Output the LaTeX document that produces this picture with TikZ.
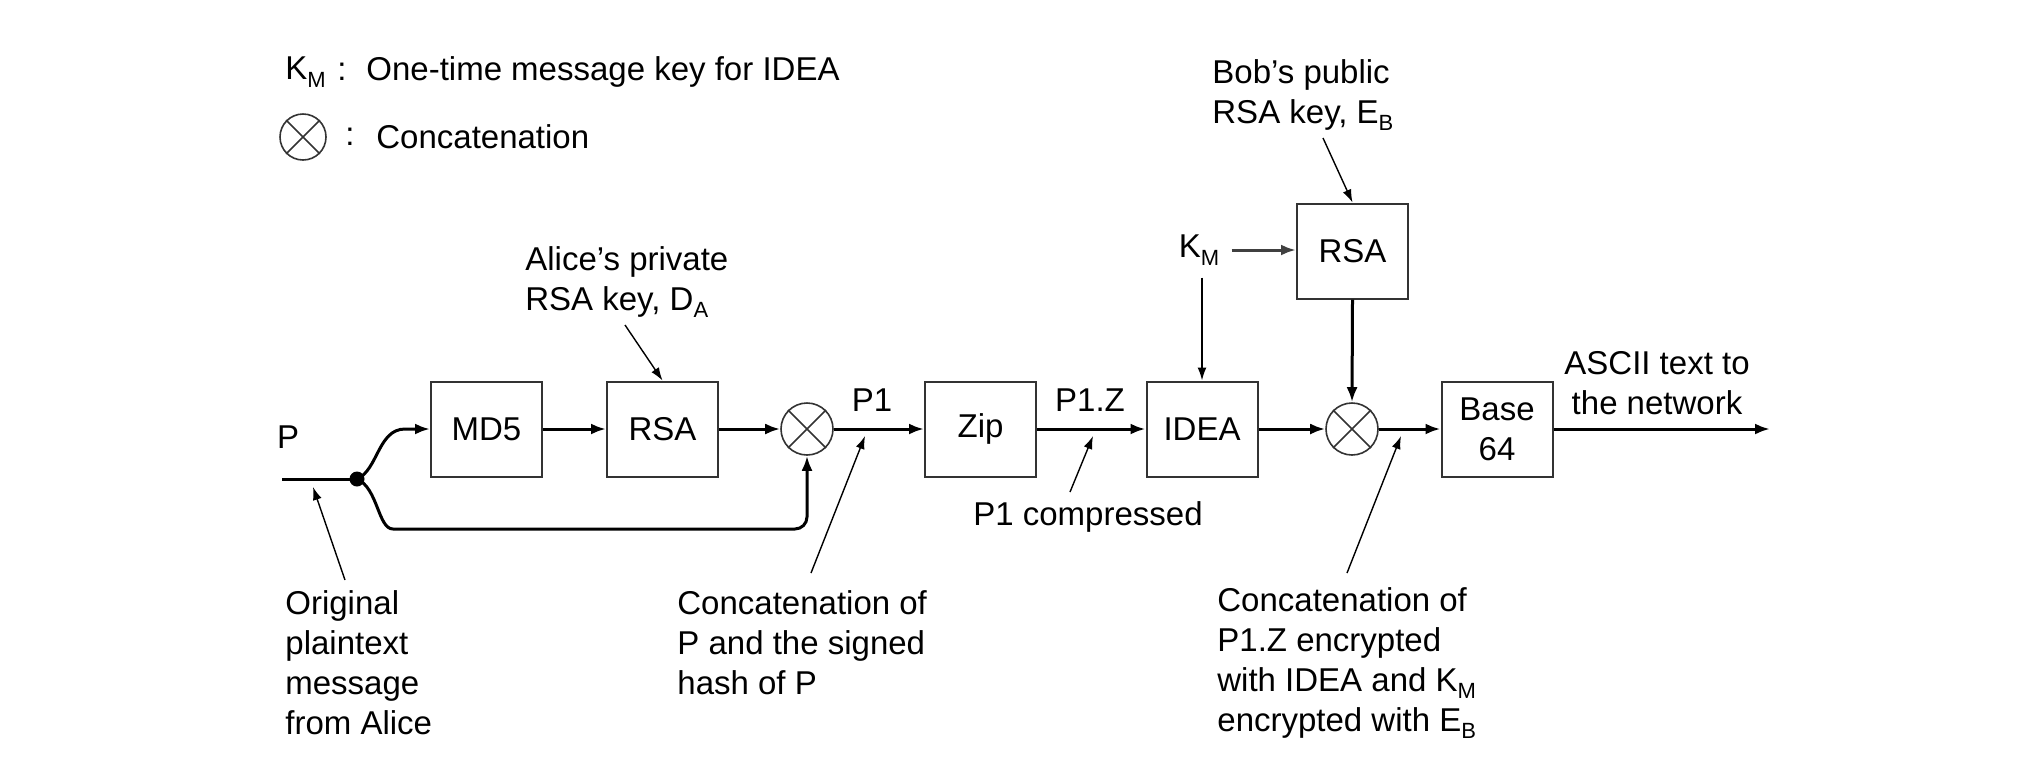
\documentclass[tikz,border=0pt]{standalone}
\usepackage{fontspec}
\setmainfont{Liberation Sans}
\usetikzlibrary{arrows.meta}
\newcommand{\lsub}[1]{\raisebox{-0.45ex}{\fontsize{11}{11}\selectfont #1}}
\begin{document}
\begin{tikzpicture}[x=0.5pt,y=-0.5pt,
  every node/.style={font=\fontsize{16.5}{20}\selectfont, inner sep=0pt},
  blk/.style={draw=black!80, line width=1pt, minimum width=55.5pt, minimum height=47.5pt, align=center},
  cat/.style={circle, draw=black!80, line width=0.8pt, minimum size=26pt},
  flow/.style={line width=1.5pt, -{Latex[length=7.5pt,width=5.5pt]}},
  lead/.style={line width=0.7pt, -{Latex[length=6.5pt,width=4.5pt]}},
  lbl/.style={anchor=west, align=left}]
\useasboundingbox (0,0) rectangle (2037,778);

% legend
\node[lbl] (legkm) at (285,72) {K\lsub{M}};
\node (legcolon1) at (342,72) {:};
\node[lbl] (legkmtxt) at (366,72) {One-time message key for IDEA};
\node[cat, minimum size=23pt] (legcat) at (303,137) {};
\draw[line width=0.8pt, black!80] (legcat.45) -- (legcat.225) (legcat.135) -- (legcat.315);
\node (legcolon2) at (350,137) {:};
\node[lbl] (legcattxt) at (376,137) {Concatenation};

% blocks
\node[blk] (md5) at (486.5,429) {MD5};
\node[blk] (rsa1) at (662.5,429) {RSA};
\node[cat] (c1) at (807,429) {};
\node[blk] (zip) at (980.5,429) {Zip};
\node[blk] (idea) at (1202,429) {IDEA};
\node[cat] (c2) at (1352,429) {};
\node[blk] (b64) at (1497,429) {Base\\64};
\node[blk] (rsa2) at (1352.5,251) {RSA};
\foreach \c in {c1,c2}{
  \draw[line width=0.8pt, black!80] (\c.45) -- (\c.225) (\c.135) -- (\c.315);
}

% input
\node (p) at (288,437) {P};
\coordinate (pin) at (282,479);
\node[circle, fill, minimum size=7.5pt] (dot) at (357,479) {};
\draw[line width=1.5pt] (pin) -- (dot.center);
\draw[flow] (dot.center) .. controls (378,470) and (378,429) .. (405,429) -- (md5.west);
\draw[flow, rounded corners=6pt] (dot.center) .. controls (378,488) and (378,529) .. (405,529) -- (807,529) -- (c1.south);

% main flow
\draw[flow] (md5.east) -- (rsa1.west);
\draw[flow] (rsa1.east) -- (c1.west);
\draw[flow] (c1.east) -- (zip.west);
\draw[flow] (zip.east) -- (idea.west);
\draw[flow] (idea.east) -- (c2.west);
\draw[flow] (c2.east) -- (b64.west);
\coordinate (out) at (1770,429);
\draw[flow] (b64.east) -- (out);
\draw[flow] (rsa2.south) -- (c2.north);

% labels on lines
\node (p1) at (872,400) {P1};
\node (p1z) at (1090,400) {P1.Z};
\node[align=center] (ascii) at (1657,383) {ASCII text to\\the network};

% keys
\node[lbl] (alice) at (525,282) {Alice's private\\RSA key, D\lsub{A}};
\coordinate (aliceArr) at (625,325);
\draw[lead] (aliceArr) -- (rsa1.north);
\node[lbl] (bob) at (1212,95) {Bob's public\\RSA key, E\lsub{B}};
\coordinate (bobArr) at (1323,138);
\draw[lead] (bobArr) -- (rsa2.north);
\node (km) at (1199,250) {K\lsub{M}};
\draw[flow, black!75, shorten <=6pt] (km.east) -- (km.east -| rsa2.west);
\draw[lead, line width=0.8pt, shorten <=6pt] (idea.north |- km.south) -- (idea.north);

% annotations
\node (p1c) at (1088,517) {P1 compressed};
\coordinate (p1cS) at (1070,492);
\coordinate (p1cT) at (1093,436);
\draw[lead] (p1cS) -- (p1cT);

\node[lbl] (orig) at (285,663) {Original\\plaintext\\message\\from Alice};
\coordinate (origS) at (345,580);
\coordinate (origT) at (313,487);
\draw[lead] (origS) -- (origT);

\node[lbl] (catp) at (677,643) {Concatenation of\\P and the signed\\hash of P};
\coordinate (catpS) at (811,573);
\coordinate (catpT) at (865,436);
\draw[lead] (catpS) -- (catpT);

\node[lbl] (cat2) at (1217,663) {Concatenation of\\P1.Z encrypted\\with IDEA and K\lsub{M}\\encrypted with E\lsub{B}};
\coordinate (cat2S) at (1347,573);
\coordinate (cat2T) at (1401,436);
\draw[lead] (cat2S) -- (cat2T);
\end{tikzpicture}
\end{document}
